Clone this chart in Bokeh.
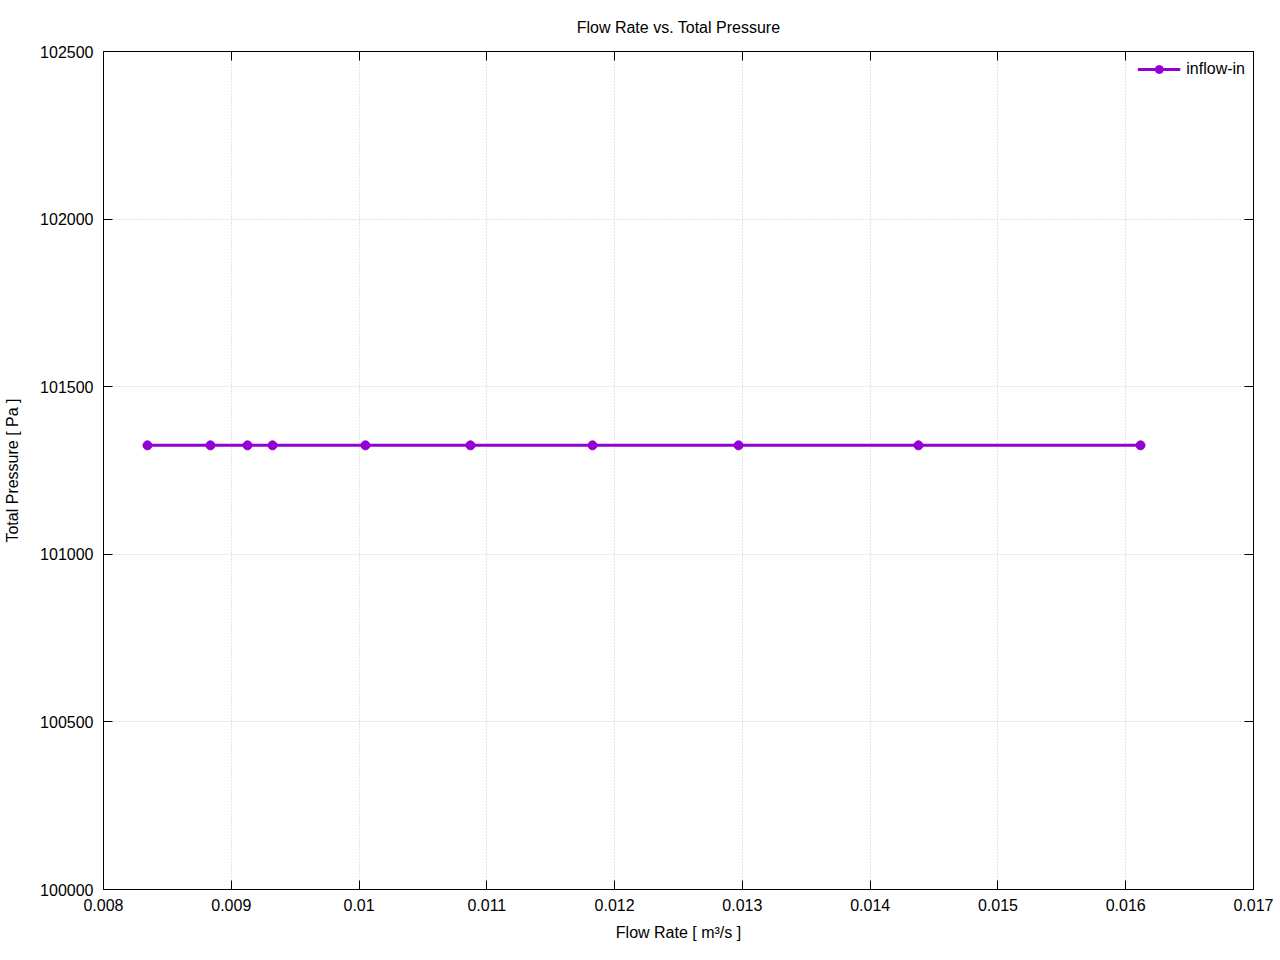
from bokeh.plotting import figure
from bokeh.models import (ColumnDataSource, LinearAxis, FixedTicker, CustomJSTickFormatter,
                          Legend, LegendItem, Range1d)
from bokeh.embed import file_html
from bokeh.resources import INLINE

# Data
flow_rate = [0.008344, 0.008837, 0.009127, 0.009323, 0.010050,
             0.010872, 0.011827, 0.012970, 0.014378, 0.016116]
total_pressure = [101325, 101325, 101325, 101325, 101325,
                  101325, 101325, 101325, 101325, 101325]
x_ticks = [0.008, 0.009, 0.010, 0.011, 0.012, 0.013, 0.014, 0.015, 0.016, 0.017]
y_ticks = [100000, 100500, 101000, 101500, 102000, 102500]
series_name = "inflow-in"

FONT = "Liberation Sans"
COLOR = "#9400d3"

p = figure(frame_width=1150, frame_height=838, output_backend="svg", toolbar_location=None,
           x_range=Range1d(0.008, 0.017), y_range=Range1d(100000, 102500),
           min_border_left=103, min_border_right=27, min_border_top=51, min_border_bottom=71,
           x_axis_label="Flow Rate [ m³/s ]", y_axis_label="Total Pressure [ Pa ]")
p.title.text = "Flow Rate vs. Total Pressure"
p.title.align = "center"
p.title.text_font = FONT
p.title.text_font_size = "16px"
p.title.text_font_style = "normal"
p.title.text_color = "black"
p.title.standoff = 32

src = ColumnDataSource(dict(x=flow_rate, y=total_pressure))
r_line = p.line("x", "y", source=src, line_color=COLOR, line_width=3)
r_pts = p.scatter("x", "y", source=src, size=9, fill_color=COLOR, line_color=COLOR)

xfmt = CustomJSTickFormatter(code="return String(Number(tick.toFixed(3)));")
yfmt = CustomJSTickFormatter(code="return tick.toFixed(0);")
blank = CustomJSTickFormatter(code="return '';")

for ax, fmt in ((p.xaxis[0], xfmt), (p.yaxis[0], yfmt)):
    ax.formatter = fmt
    ax.major_tick_in = 9
    ax.major_tick_out = 0
    ax.minor_tick_in = 0
    ax.minor_tick_out = 0
    ax.major_label_text_font = FONT
    ax.major_label_text_font_size = "16px"
    ax.major_label_text_color = "black"
    ax.axis_label_text_font = FONT
    ax.axis_label_text_font_size = "16px"
    ax.axis_label_text_font_style = "normal"
    ax.axis_label_text_color = "black"
    ax.axis_line_color = "black"
    ax.major_tick_line_color = "black"

p.xaxis[0].ticker = FixedTicker(ticks=x_ticks)
p.yaxis[0].ticker = FixedTicker(ticks=y_ticks)
p.xaxis[0].major_label_standoff = 9
p.xaxis[0].axis_label_standoff = 10
p.yaxis[0].major_label_standoff = 10
p.yaxis[0].axis_label_standoff = 16

top = LinearAxis(ticker=FixedTicker(ticks=x_ticks), formatter=blank,
                 major_tick_in=9, major_tick_out=0, minor_tick_in=0, minor_tick_out=0,
                 major_label_text_font_size="0px", major_label_standoff=0)
right = LinearAxis(ticker=FixedTicker(ticks=y_ticks), formatter=blank,
                   major_tick_in=9, major_tick_out=0, minor_tick_in=0, minor_tick_out=0,
                   major_label_text_font_size="0px", major_label_standoff=0)
p.add_layout(top, "above")
p.add_layout(right, "right")

p.xgrid.ticker = FixedTicker(ticks=x_ticks)
p.ygrid.ticker = FixedTicker(ticks=y_ticks)
for g in (p.xgrid[0], p.ygrid[0]):
    g.grid_line_color = "#c8c8c8"
    g.grid_line_dash = "1 2"
    g.grid_line_width = 1

p.outline_line_color = "black"
p.outline_line_width = 1
p.background_fill_color = "white"
p.border_fill_color = "white"

legend = Legend(items=[LegendItem(label=series_name, renderers=[r_line, r_pts])],
                location="top_right", border_line_color=None, background_fill_alpha=0,
                label_text_font=FONT, label_text_font_size="16px", label_text_color="black",
                glyph_width=43, label_standoff=6, margin=8, padding=4)
p.add_layout(legend)

open("out.html", "w").write(file_html(p, INLINE))
